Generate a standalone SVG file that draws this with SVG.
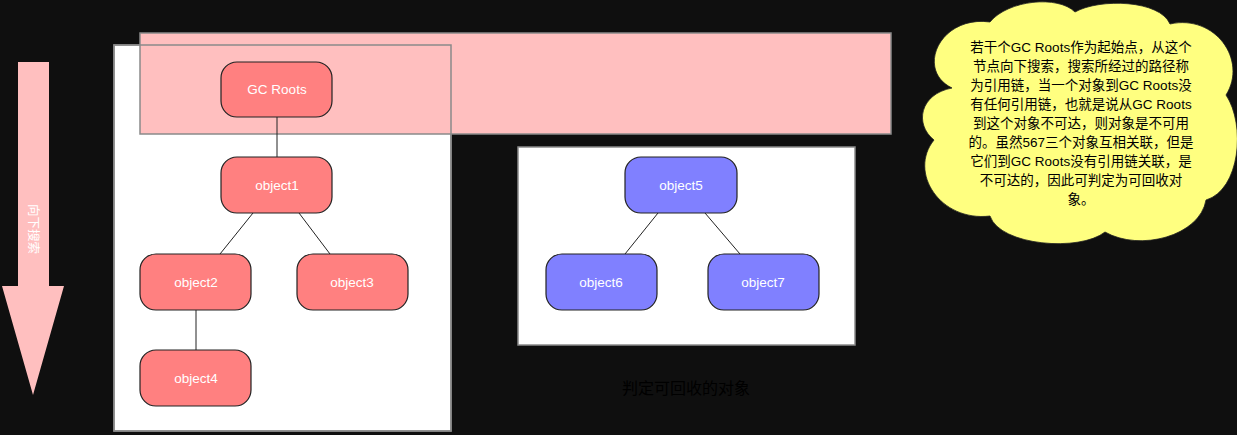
<svg xmlns="http://www.w3.org/2000/svg" width="1237" height="435" viewBox="0 0 1237 435">
<style>
text{font-family:"Liberation Sans","Noto Sans CJK SC",sans-serif}
.node{stroke:#222;stroke-width:1.2}
.red{fill:#ff8080}
.blue{fill:#8080ff}
.lbl{fill:#fff;font-size:13.5px;text-anchor:middle}
.box{fill:#fff;stroke:#8a8a8a;stroke-width:1.5}
.cl{font-size:13.5px;text-anchor:middle;fill:#000}
.edge{stroke:#222;stroke-width:1;fill:none}
</style>
<rect width="1237" height="435" fill="#0f0f0f"/>
<g id="arrow">
<polygon points="18,62 49,62 49,286 64,286 33,395 2,286 18,286" fill="#ffbfbf"/>
<text transform="translate(33,229) rotate(90)" fill="#fff" font-size="12.5" text-anchor="middle" dominant-baseline="central">向下搜索</text>
</g>
<g id="leftBox"><rect class="box" x="114" y="45" width="337" height="386"/></g>
<g id="band"><rect x="140" y="33" width="751" height="101" fill="#ffbfbf" stroke="#8a8a8a" stroke-width="1.5"/></g>
<rect x="114" y="45" width="337" height="386" fill="none" stroke="#8a8a8a" stroke-width="1.5"/>
<g id="rightBox"><rect class="box" x="518" y="147" width="337" height="198"/></g>
<g id="connectors">
<line class="edge" x1="277" y1="117" x2="277" y2="157"/>
<line class="edge" x1="253" y1="213" x2="220" y2="254"/>
<line class="edge" x1="299" y1="213" x2="330" y2="254"/>
<line class="edge" x1="196" y1="310" x2="196" y2="350"/>
<line class="edge" x1="658" y1="213" x2="625" y2="254"/>
<line class="edge" x1="705" y1="213" x2="740" y2="254"/>
</g>
<g id="gcroots"><rect class="node red" x="221" y="62" width="111" height="55" rx="16"/><text class="lbl" x="277" y="94">GC Roots</text></g>
<g id="object1"><rect class="node red" x="221" y="157" width="111" height="56" rx="16"/><text class="lbl" x="277" y="190">object1</text></g>
<g id="object2"><rect class="node red" x="140" y="254" width="111" height="56" rx="16"/><text class="lbl" x="196" y="287">object2</text></g>
<g id="object3"><rect class="node red" x="297" y="254" width="111" height="56" rx="16"/><text class="lbl" x="352" y="287">object3</text></g>
<g id="object4"><rect class="node red" x="140" y="350" width="111" height="56" rx="16"/><text class="lbl" x="196" y="383">object4</text></g>
<g id="object5"><rect class="node blue" x="625" y="157" width="112" height="56" rx="16"/><text class="lbl" x="681" y="190">object5</text></g>
<g id="object6"><rect class="node blue" x="546" y="254" width="111" height="56" rx="16"/><text class="lbl" x="601" y="287">object6</text></g>
<g id="object7"><rect class="node blue" x="708" y="254" width="111" height="56" rx="16"/><text class="lbl" x="763" y="287">object7</text></g>
<g id="caption"><text x="686" y="394" font-size="16" text-anchor="middle" fill="#000">判定可回收的对象</text></g>
<g id="cloud">
<path d="M 952,88 C 915,70 940,15 990,22 C 1008,0 1058,-5 1075,12 C 1100,-2 1160,0 1170,24 C 1215,14 1248,60 1226,95 C 1246,125 1240,190 1206,200 C 1200,236 1140,252 1105,232 C 1080,252 1000,246 990,216 C 940,222 908,172 934,140 C 914,124 920,94 952,88 Z" fill="#ffff80" stroke="#222" stroke-width="0.8"/>
<text class="cl" x="1081" y="52">若干个GC Roots作为起始点，从这个</text>
<text class="cl" x="1081" y="71">节点向下搜索，搜索所经过的路径称</text>
<text class="cl" x="1081" y="90">为引用链，当一个对象到GC Roots没</text>
<text class="cl" x="1081" y="109">有任何引用链，也就是说从GC Roots</text>
<text class="cl" x="1081" y="128">到这个对象不可达，则对象是不可用</text>
<text class="cl" x="1081" y="147">的。虽然567三个对象互相关联，但是</text>
<text class="cl" x="1081" y="166">它们到GC Roots没有引用链关联，是</text>
<text class="cl" x="1081" y="185">不可达的，因此可判定为可回收对</text>
<text class="cl" x="1081" y="204">象。</text>
</g>
</svg>
